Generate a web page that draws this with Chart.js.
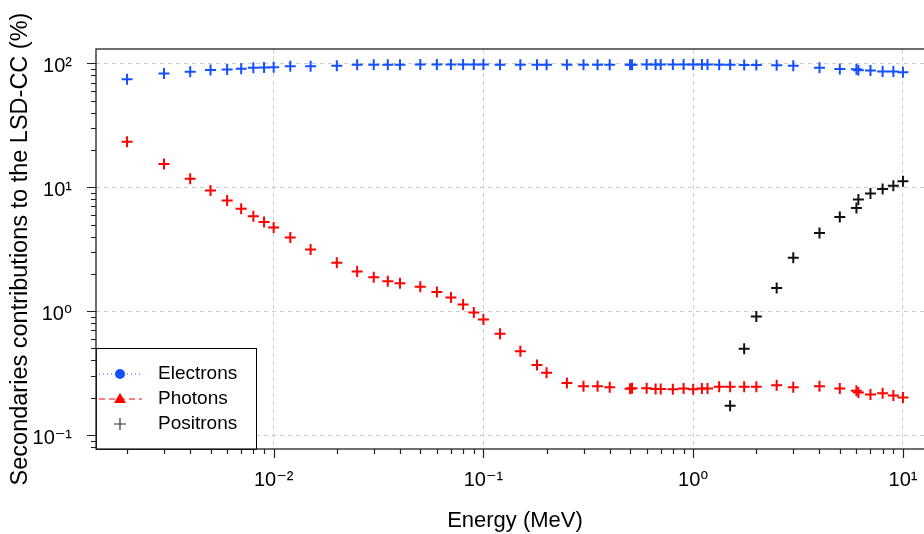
<!DOCTYPE html>
<html>
<head>
<meta charset="utf-8">
<script src="https://cdn.jsdelivr.net/npm/chart.js@4.4.0/dist/chart.umd.min.js"></script>
<style>
  html, body { margin: 0; padding: 0; background: #fff; overflow: hidden; }
  #wrap { width: 924px; height: 534px; overflow: hidden; }
</style>
</head>
<body>
<div id="wrap"><canvas id="myChart" width="944" height="534"></canvas></div>
<script>
// energies (MeV) shared by electrons and photons
var energy = [0.002, 0.003, 0.004, 0.005, 0.006, 0.007, 0.008, 0.009, 0.01,
  0.012, 0.015, 0.02, 0.025, 0.03, 0.035, 0.04, 0.05, 0.06, 0.07, 0.08, 0.09, 0.1,
  0.12, 0.15, 0.18, 0.2, 0.25, 0.3, 0.35, 0.4,
  0.5, 0.511, 0.6, 0.662, 0.7, 0.8, 0.9, 1.0,
  1.1, 1.17, 1.33, 1.5, 1.75, 2, 2.5, 3,
  4, 5, 6, 6.13, 7, 8, 9, 10];

var electrons = [74.5, 82.7, 85.4, 88.6, 89.3, 90.5, 92.3, 92.6, 93.0,
  94.6, 95.0, 95.8, 97.3, 97.5, 97.6, 97.6, 97.7, 97.8, 97.8, 97.8, 97.8, 97.8,
  97.6, 97.6, 97.4, 97.4, 97.5, 97.5, 97.6, 97.6,
  97.6, 97.6, 97.7, 97.7, 97.7, 97.7, 97.7, 98.0,
  97.8, 97.7, 97.5, 97.3, 97.2, 97.0, 96.7, 95.6,
  92.0, 90.2, 89.5, 87.8, 87.5, 86.0, 85.8, 84.8];

var photons = [23.3, 15.4, 11.7, 9.42, 7.82, 6.69, 5.84, 5.25, 4.73,
  3.93, 3.14, 2.46, 2.09, 1.88, 1.74, 1.68, 1.57, 1.43, 1.29, 1.13, 0.976, 0.857,
  0.656, 0.474, 0.368, 0.318, 0.263, 0.247, 0.247, 0.243,
  0.236, 0.238, 0.238, 0.235, 0.235, 0.234, 0.237, 0.234,
  0.237, 0.237, 0.245, 0.245, 0.245, 0.245, 0.252, 0.243,
  0.247, 0.237, 0.228, 0.22, 0.212, 0.217, 0.208, 0.201];

// positrons only appear above pair threshold
var positronEnergy = [1.5, 1.75, 2, 2.5, 3, 4, 5, 6, 6.13, 7, 8, 9, 10];
var positrons = [0.172, 0.497, 0.906, 1.54, 2.7, 4.28, 5.76, 6.81, 7.96, 8.91, 9.66, 10.3, 11.2];

var xDecades = [0.01, 0.1, 1, 10];
var yDecades = [0.1, 1, 10, 100];

var legendNames = ['Electrons', 'Photons', 'Positrons'];
var blue = 'rgb(20,80,255)';
var red = 'rgb(255,0,0)';
var FONT = "'Liberation Sans', Arial, 'DejaVu Sans', sans-serif";

var SUP = {'-': '\u207B', '0': '\u2070', '1': '\u00B9', '2': '\u00B2', '3': '\u00B3',
  '4': '\u2074', '5': '\u2075', '6': '\u2076', '7': '\u2077', '8': '\u2078', '9': '\u2079'};

function powLabel(v) {
  var e = String(Math.round(Math.log10(v)));
  return '10' + e.split('').map(function(c) { return SUP[c]; }).join('');
}

function pairs(xs, ys) {
  return xs.map(function(x, i) { return {x: x, y: ys[i]}; });
}

// frame, R-style log ticks and the legend box
var framePlugin = {
  id: 'frame',
  afterDatasetsDraw: function(chart) {
    var ctx = chart.ctx, a = chart.chartArea;
    var sx = chart.scales.x, sy = chart.scales.y;
    ctx.save();

    // legend
    var lx = a.left, ly = a.bottom - 101, lw = 160;
    ctx.fillStyle = '#fff';
    ctx.fillRect(lx, ly, lw, a.bottom - ly);
    ctx.strokeStyle = '#000';
    ctx.lineWidth = 1;
    ctx.strokeRect(lx + 0.5, ly + 0.5, lw, a.bottom - ly);

    var mx = lx + 24;
    var rows = [ly + 26, ly + 51, ly + 76];
    // electrons: dotted line + dot
    ctx.strokeStyle = blue; ctx.fillStyle = blue; ctx.lineWidth = 1;
    ctx.setLineDash([1, 3]);
    ctx.beginPath(); ctx.moveTo(lx + 3, rows[0]); ctx.lineTo(lx + 44, rows[0]); ctx.stroke();
    ctx.setLineDash([]);
    ctx.beginPath(); ctx.arc(mx, rows[0], 5, 0, Math.PI * 2); ctx.fill();
    // photons: dashed line + triangle
    ctx.strokeStyle = red; ctx.fillStyle = red;
    ctx.setLineDash([6, 4]);
    ctx.beginPath(); ctx.moveTo(lx + 3, rows[1]); ctx.lineTo(lx + 46, rows[1]); ctx.stroke();
    ctx.setLineDash([]);
    ctx.beginPath();
    ctx.moveTo(mx, rows[1] - 6); ctx.lineTo(mx + 6, rows[1] + 4); ctx.lineTo(mx - 6, rows[1] + 4);
    ctx.closePath(); ctx.fill();
    // positrons: plus
    ctx.strokeStyle = '#333'; ctx.lineWidth = 1.2;
    ctx.beginPath();
    ctx.moveTo(mx - 6, rows[2]); ctx.lineTo(mx + 6, rows[2]);
    ctx.moveTo(mx, rows[2] - 6); ctx.lineTo(mx, rows[2] + 6);
    ctx.stroke();

    ctx.fillStyle = '#000';
    ctx.font = '19px ' + FONT;
    ctx.textAlign = 'left';
    ctx.textBaseline = 'middle';
    legendNames.forEach(function(n, i) { ctx.fillText(n, lx + 62, rows[i]); });

    // frame
    ctx.strokeStyle = '#222';
    ctx.lineWidth = 1.3;
    ctx.strokeRect(a.left, a.top, a.right - a.left, a.bottom - a.top);

    // ticks
    ctx.lineWidth = 1.2;
    ctx.beginPath();
    for (var d = -4; d <= 3; d++) {
      for (var m = 1; m <= 9; m++) {
        var v = m * Math.pow(10, d);
        var len = m === 1 ? 9 : 5;
        if (v >= sx.min && v <= sx.max) {
          var px = Math.round(sx.getPixelForValue(v)) + 0.5;
          ctx.moveTo(px, a.bottom); ctx.lineTo(px, a.bottom + len);
        }
        if (v >= sy.min && v <= sy.max) {
          var py = Math.round(sy.getPixelForValue(v)) + 0.5;
          ctx.moveTo(a.left, py); ctx.lineTo(a.left - len, py);
        }
      }
    }
    ctx.stroke();
    ctx.restore();
  }
};

Chart.defaults.font.family = FONT;
Chart.defaults.color = '#000';

var config = {
  type: 'scatter',
  data: {
    datasets: [
      {label: 'Electrons', data: pairs(energy, electrons), borderColor: blue, backgroundColor: blue},
      {label: 'Photons', data: pairs(energy, photons), borderColor: red, backgroundColor: red},
      {label: 'Positrons', data: pairs(positronEnergy, positrons), borderColor: '#111', backgroundColor: '#111'}
    ]
  },
  options: {
    responsive: false,
    devicePixelRatio: 1,
    animation: false,
    events: [],
    layout: {padding: {top: 49, right: 10, left: 0, bottom: 0}},
    elements: {
      point: {pointStyle: 'cross', radius: 5.5, borderWidth: 2, hoverRadius: 5.5}
    },
    plugins: {legend: {display: false}, tooltip: {enabled: false}},
    scales: {
      x: {
        type: 'logarithmic',
        position: 'bottom',
        min: Math.pow(10, -2.847),
        max: Math.pow(10, 1.148),
        afterBuildTicks: function(s) { s.ticks = xDecades.map(function(v) { return {value: v}; }); },
        afterFit: function(s) { s.height = 85; },
        grid: {color: '#cccccc', lineWidth: 1, drawTicks: false},
        border: {display: false, dash: [4, 4]},
        ticks: {
          callback: function(v) { return powLabel(v); },
          font: {size: 20}, padding: 19, maxRotation: 0, autoSkip: false
        },
        title: {display: true, text: 'Energy (MeV)', font: {size: 22}, padding: {top: 0, bottom: 0}}
      },
      y: {
        type: 'logarithmic',
        position: 'left',
        min: Math.pow(10, -1.113),
        max: Math.pow(10, 2.116),
        afterBuildTicks: function(s) { s.ticks = yDecades.map(function(v) { return {value: v}; }); },
        afterFit: function(s) { s.width = 96; },
        grid: {color: '#cccccc', lineWidth: 1, drawTicks: false},
        border: {display: false, dash: [4, 4]},
        ticks: {
          callback: function(v) { return powLabel(v); },
          font: {size: 20}, padding: 24, labelOffset: 3
        },
        title: {display: true, text: 'Secondaries contributions to the LSD-CC (%)', font: {size: 23.5}, padding: {top: 6, bottom: 0}}
      }
    }
  },
  plugins: [framePlugin]
};

document.addEventListener('DOMContentLoaded', function() {
  new Chart(document.getElementById('myChart'), config);
});
</script>
</body>
</html>
